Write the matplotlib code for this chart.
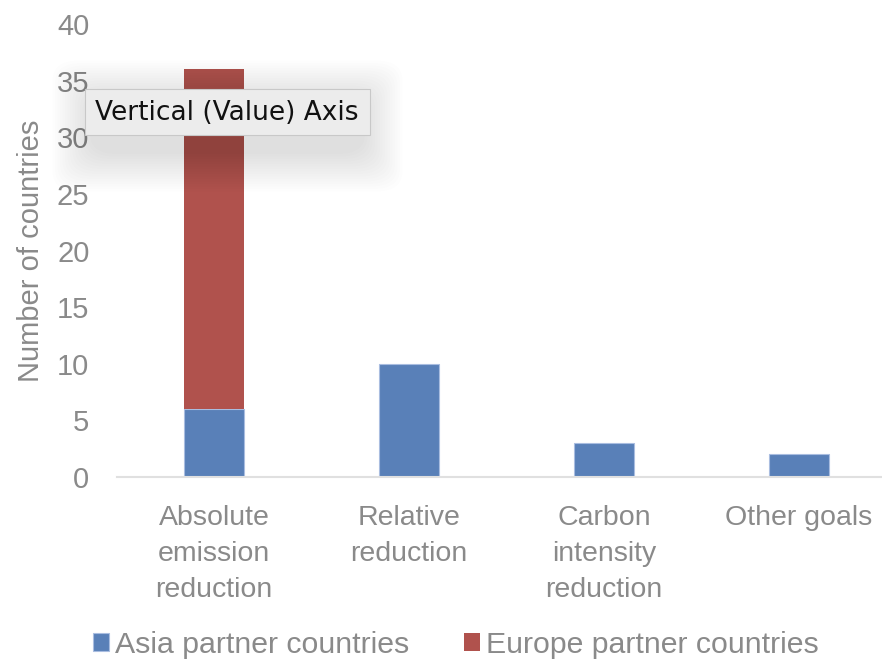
import matplotlib
matplotlib.use("Agg")
import matplotlib.pyplot as plt
from matplotlib.patches import FancyBboxPatch
import numpy as np

categories = ["Absolute\nemission\nreduction", "Relative\nreduction", "Carbon\nintensity\nreduction", "Other goals"]
asia = [6, 10, 3, 2]
europe = [30, 0, 0, 0]
series_names = ["Asia partner countries", "Europe partner countries"]
yticks = [0, 5, 10, 15, 20, 25, 30, 35, 40]

blue = "#5980b8"
red = "#b0524d"
gray = "#8a8a8a"

plt.rcParams['font.family'] = ['Liberation Sans', 'DejaVu Sans']

fig = plt.figure(figsize=(8.82, 6.62), dpi=100)
W, H = 882, 662
x0, x1 = 116.5, 882
y0, y1 = 477, 24
ax = fig.add_axes([x0 / W, 1 - y0 / H, (x1 - x0) / W, (y0 - y1) / H])

x = np.arange(len(categories))
bw = 0.31
ax.bar(x, asia, width=bw, color=blue, edgecolor="#a9bde0", linewidth=0.8, label=series_names[0])
ax.bar(x, europe, width=bw, bottom=asia, color=red, edgecolor="none", linewidth=0, label=series_names[1])

span = (x1 - x0) / 195.0
ax.set_xlim(-0.5, -0.5 + span)
ax.set_ylim(0, 40)
ax.set_yticks(yticks)
ax.set_yticklabels([str(t) for t in yticks], fontsize=21, color=gray)
ax.set_xticks(x)
ax.set_xticklabels(categories, fontsize=20.5, color=gray, linespacing=1.5)
ax.tick_params(axis='both', length=0)
ax.tick_params(axis='y', pad=19.5)
ax.tick_params(axis='x', pad=20)
for s in ["top", "right", "left"]:
    ax.spines[s].set_visible(False)
ax.spines["bottom"].set_color("#e0e0e0")
ax.spines["bottom"].set_linewidth(1.5)
ax.set_ylabel("Number of countries", fontsize=21, color=gray)
ax.yaxis.set_label_coords(-0.094, 0.5)

leg = fig.legend(loc="center left", bbox_to_anchor=(93 / W, 1 - 645 / H), ncol=2, frameon=False,
                 fontsize=21.8, handlelength=0.53, handleheight=0.53, handletextpad=0.2,
                 columnspacing=1.8, borderaxespad=0.0, borderpad=0.0)
for t in leg.get_texts():
    t.set_color(gray)

# tooltip overlay with soft shadow (offset downward)
n = 16
for i in range(n):
    pad = 2 + i * 2.5
    sh = FancyBboxPatch(((92 - pad) / W, 1 - (152 + pad) / H), (271 + 2 * pad) / W, (52 + 2 * pad) / H,
                        boxstyle="round,pad=0,rounding_size=0.03", transform=fig.transFigure,
                        facecolor="black", edgecolor="none", alpha=0.008, zorder=9)
    fig.add_artist(sh)
box = FancyBboxPatch((85 / W, 1 - 135 / H), 285 / W, 46 / H, boxstyle="square,pad=0",
                     transform=fig.transFigure, facecolor="#ececec", edgecolor="#c8c8c8",
                     linewidth=0.8, zorder=10)
fig.add_artist(box)
fig.text(95 / W, 1 - 113 / H, "Vertical (Value) Axis", fontsize=19, color="#111111",
         va="center", ha="left", zorder=11, family=['DejaVu Sans'])

fig.savefig("out.png", dpi=100)
